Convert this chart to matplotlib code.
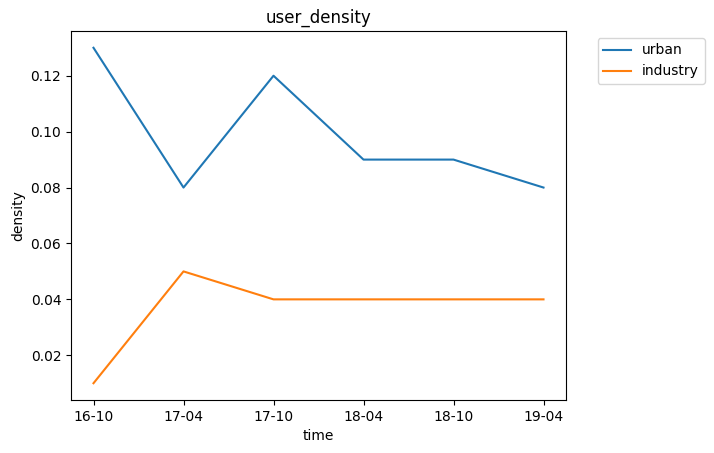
import matplotlib
matplotlib.use("Agg")
import matplotlib.pyplot as plt

times = ["16-10", "17-04", "17-10", "18-04", "18-10", "19-04"]
urban = [0.13, 0.08, 0.12, 0.09, 0.09, 0.08]
industry = [0.01, 0.05, 0.04, 0.04, 0.04, 0.04]

fig = plt.figure(figsize=(7.14, 4.53), dpi=100)
ax = fig.add_axes([71/714, 1-400/453, (566-71)/714, (400-31)/453])
ax.plot(times, urban, label="urban")
ax.plot(times, industry, label="industry")
ax.set_title("user_density")
ax.set_xlabel("time")
ax.set_ylabel("density")
ax.legend(bbox_to_anchor=(1.05, 1), loc="upper left")
fig.savefig("out.png", dpi=100)
